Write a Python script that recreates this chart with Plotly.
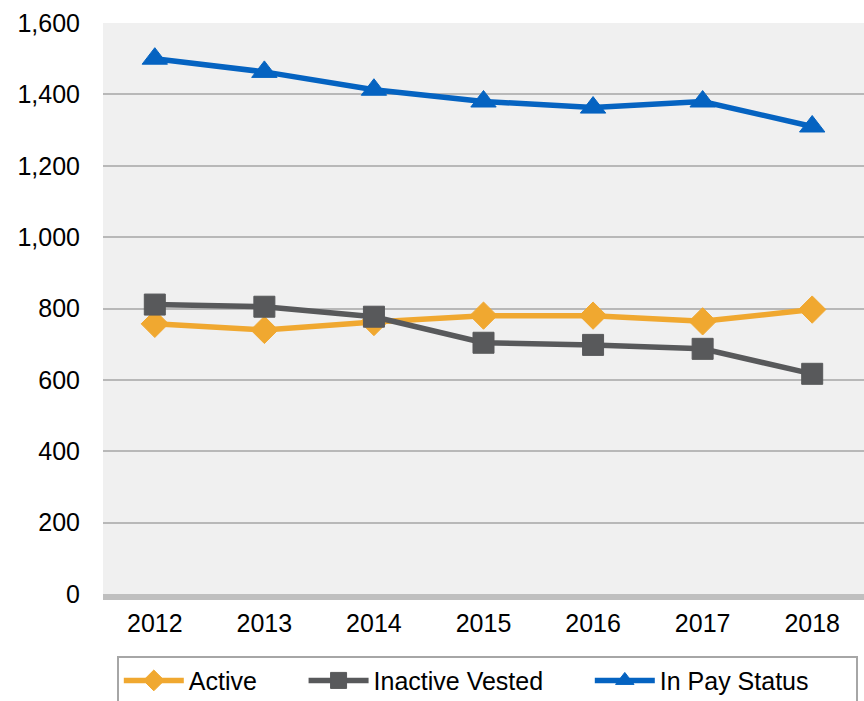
import plotly.graph_objects as go

years = ["2012", "2013", "2014", "2015", "2016", "2017", "2018"]
active = [757, 740, 762, 780, 780, 764, 797]
inactive_vested = [811, 805, 777, 704, 698, 687, 617]
in_pay_status = [1500, 1463, 1413, 1380, 1363, 1380, 1310]

y_ticks = [0, 200, 400, 600, 800, 1000, 1200, 1400, 1600]
y_tick_text = ["0", "200", "400", "600", "800", "1,000", "1,200", "1,400", "1,600"]

series = [
    ("Active", active, "#F0A830", "diamond", 21),
    ("Inactive Vested", inactive_vested, "#58595B", "square", 21),
    ("In Pay Status", in_pay_status, "#0563C1", "triangle-up", 22),
]

# trailing no-break spaces widen the gap between legend entries
PAD = "\u00a0" * 6

fig = go.Figure()
for name, values, color, symbol, size in series:
    fig.add_trace(go.Scatter(
        x=years, y=values, name=name + PAD, mode="lines+markers",
        line=dict(color=color, width=5.5),
        marker=dict(symbol=symbol, size=size, color=color,
                    line=dict(color=color, width=1)),
    ))

fig.update_layout(
    width=864, height=701,
    margin=dict(l=103, r=0, t=23, b=107, autoexpand=False),
    paper_bgcolor="white",
    plot_bgcolor="#F0F0F0",
    font=dict(family="Liberation Sans, Arial, sans-serif", size=25, color="black"),
    showlegend=True,
    legend=dict(
        orientation="h", x=0.505, xanchor="center", y=-0.108, yanchor="top",
        bordercolor="#A6A6A6", borderwidth=2, bgcolor="white",
        itemwidth=60, font=dict(size=25), traceorder="normal",
    ),
)
fig.update_xaxes(
    type="category", showgrid=False, zeroline=False,
    showline=True, linecolor="#BFBFBF", linewidth=6,
    ticks="", ticklabelstandoff=2,
    tickfont=dict(size=25),
)
fig.update_yaxes(
    range=[0, 1600], tickvals=y_ticks, ticktext=y_tick_text,
    showgrid=True, gridcolor="#B8B8B8", gridwidth=2,
    zeroline=False, showline=False, ticks="",
    ticklabelstandoff=22, tickfont=dict(size=25),
)

fig.write_html("out.html")
